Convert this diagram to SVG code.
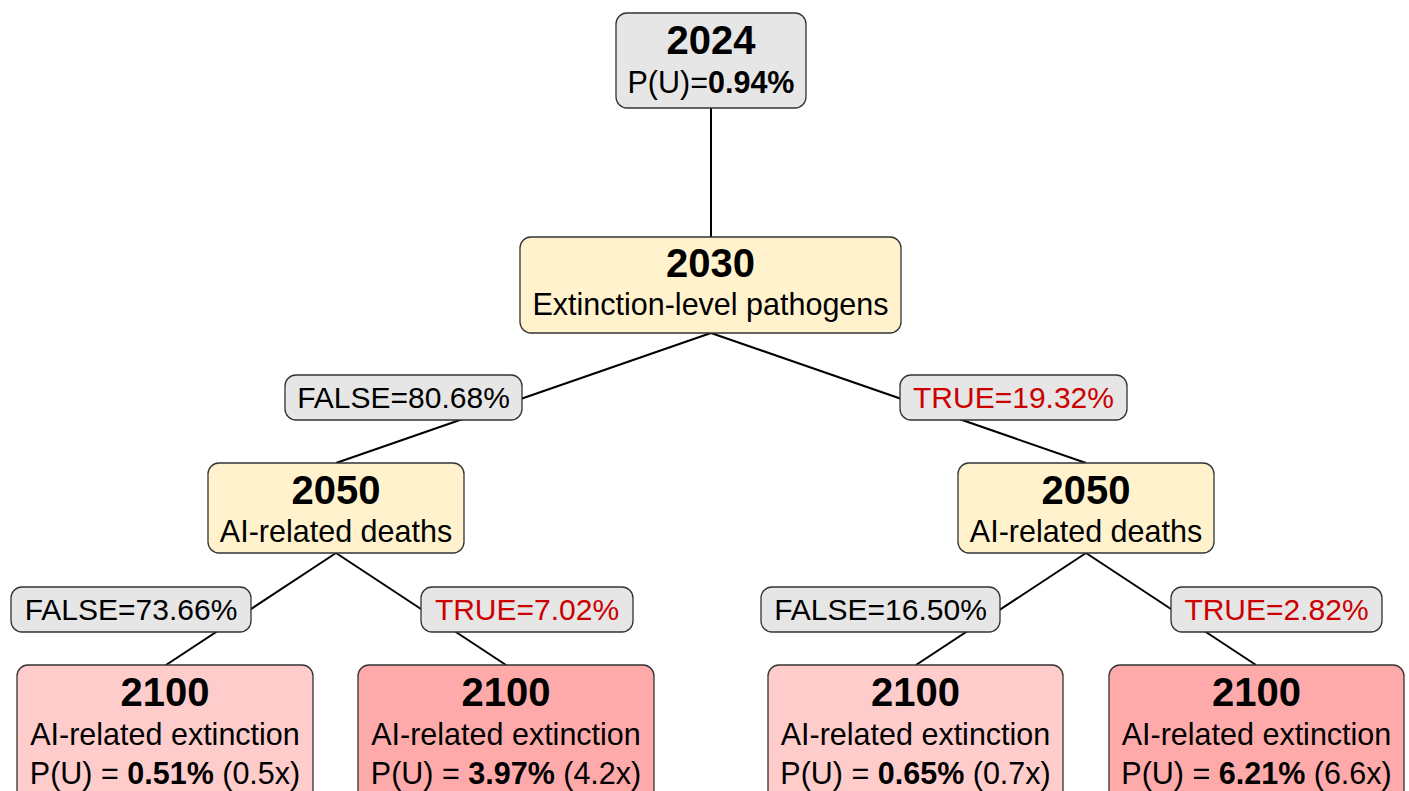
<svg xmlns="http://www.w3.org/2000/svg" width="1409" height="791" viewBox="0 0 1409 791">
<style>
.node{stroke:#333;stroke-width:1.3}
.gray{fill:#e6e6e6}
.yellow{fill:#fff2cc}
.pink{fill:#ffcccc}
.red{fill:#ffaaaa}
.lbl{fill:#e6e6e6;stroke:#333;stroke-width:1.3}
text{font-family:"Liberation Sans",Arial,sans-serif;text-anchor:middle;fill:#000}
.title{font-size:40px;font-weight:bold}
.sub{font-size:30.5px}
.lt{font-size:30px}
.tr{fill:#cc0000}
.b{font-weight:bold}
.edge{stroke:#000;stroke-width:2;fill:none}
</style>
<g id="connectors">
<line class="edge" x1="711" y1="108" x2="711" y2="237"/>
<line class="edge" x1="711" y1="333" x2="336" y2="463"/>
<line class="edge" x1="711" y1="333" x2="1086" y2="463"/>
<line class="edge" x1="336" y1="553" x2="166" y2="665"/>
<line class="edge" x1="336" y1="553" x2="506" y2="665"/>
<line class="edge" x1="1086" y1="553" x2="916" y2="665"/>
<line class="edge" x1="1086" y1="553" x2="1256" y2="665"/>
</g>
<g id="label-false-8068">
<rect class="lbl" x="285" y="375" width="237" height="45" rx="11"/>
<text class="lt" x="403.5" y="408">FALSE=80.68%</text>
</g>
<g id="label-true-1932">
<rect class="lbl" x="900" y="375" width="227" height="45" rx="11"/>
<text class="lt tr" x="1013.5" y="408">TRUE=19.32%</text>
</g>
<g id="label-false-7366">
<rect class="lbl" x="11" y="587" width="240" height="45" rx="11"/>
<text class="lt" x="131" y="620">FALSE=73.66%</text>
</g>
<g id="label-true-702">
<rect class="lbl" x="421" y="587" width="212" height="45" rx="11"/>
<text class="lt tr" x="527" y="620">TRUE=7.02%</text>
</g>
<g id="label-false-1650">
<rect class="lbl" x="761" y="587" width="239" height="45" rx="11"/>
<text class="lt" x="880.5" y="620">FALSE=16.50%</text>
</g>
<g id="label-true-282">
<rect class="lbl" x="1171" y="587" width="211" height="45" rx="11"/>
<text class="lt tr" x="1276.5" y="620">TRUE=2.82%</text>
</g>
<g id="node-2024">
<rect class="node gray" x="616" y="13" width="190" height="95" rx="11"/>
<text class="title" x="711" y="54">2024</text>
<text class="sub" x="711" y="93">P(U)=<tspan class="b">0.94%</tspan></text>
</g>
<g id="node-2030">
<rect class="node yellow" x="520" y="237" width="381" height="96" rx="11"/>
<text class="title" x="710.5" y="277">2030</text>
<text class="sub" x="710.5" y="315">Extinction-level pathogens</text>
</g>
<g id="node-2050-left">
<rect class="node yellow" x="208" y="463" width="256" height="90" rx="11"/>
<text class="title" x="336" y="504">2050</text>
<text class="sub" x="336" y="542">AI-related deaths</text>
</g>
<g id="node-2050-right">
<rect class="node yellow" x="958" y="463" width="256" height="90" rx="11"/>
<text class="title" x="1086" y="504">2050</text>
<text class="sub" x="1086" y="542">AI-related deaths</text>
</g>
<g id="node-2100-a">
<rect class="node pink" x="17" y="665" width="296" height="150" rx="11"/>
<text class="title" x="165" y="706">2100</text>
<text class="sub" x="165" y="745">AI-related extinction</text>
<text class="sub" x="165" y="784">P(U) = <tspan class="b">0.51%</tspan> (0.5x)</text>
</g>
<g id="node-2100-b">
<rect class="node red" x="358" y="665" width="296" height="150" rx="11"/>
<text class="title" x="506" y="706">2100</text>
<text class="sub" x="506" y="745">AI-related extinction</text>
<text class="sub" x="506" y="784">P(U) = <tspan class="b">3.97%</tspan> (4.2x)</text>
</g>
<g id="node-2100-c">
<rect class="node pink" x="768" y="665" width="295" height="150" rx="11"/>
<text class="title" x="915.5" y="706">2100</text>
<text class="sub" x="915.5" y="745">AI-related extinction</text>
<text class="sub" x="915.5" y="784">P(U) = <tspan class="b">0.65%</tspan> (0.7x)</text>
</g>
<g id="node-2100-d">
<rect class="node red" x="1109" y="665" width="295" height="150" rx="11"/>
<text class="title" x="1256.5" y="706">2100</text>
<text class="sub" x="1256.5" y="745">AI-related extinction</text>
<text class="sub" x="1256.5" y="784">P(U) = <tspan class="b">6.21%</tspan> (6.6x)</text>
</g>
</svg>
